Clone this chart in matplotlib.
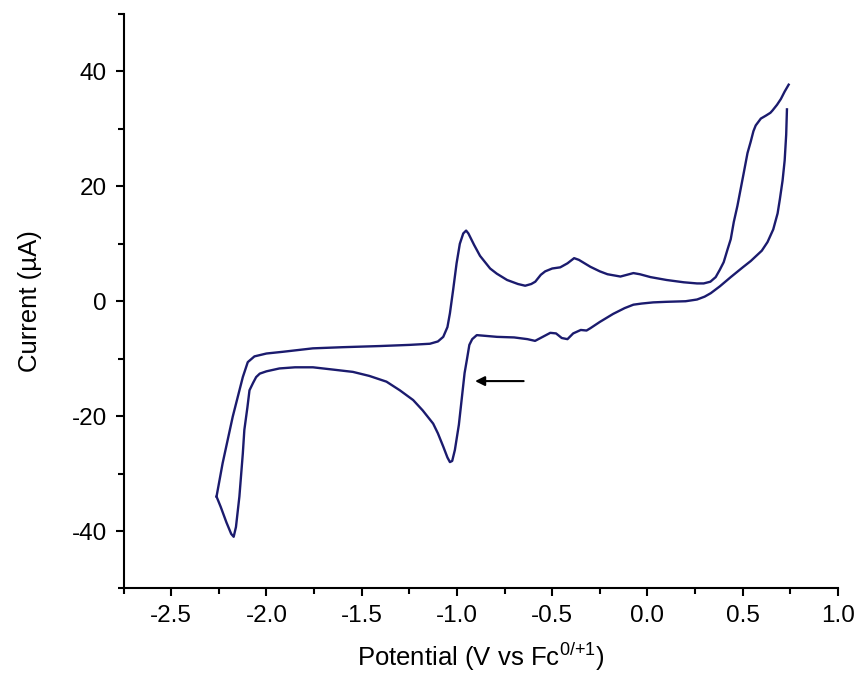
"""Voltamograma ciclico: corriente frente a potencial (V vs Fc0/+1)."""

import matplotlib
matplotlib.use("Agg")
import matplotlib.pyplot as plt
from matplotlib.ticker import MultipleLocator

plt.rcParams["font.family"] = ["Liberation Sans", "DejaVu Sans"]
plt.rcParams["mathtext.default"] = "regular"
plt.rcParams["axes.unicode_minus"] = False

# Barrido de ida (desde el vertice negativo hasta el extremo positivo)
upper_v = [-2.262, -2.23, -2.177, -2.124, -2.098, -2.063, -2.0, -1.914, -1.756, -1.6,
           -1.405, -1.25, -1.142, -1.1, -1.072, -1.05, -1.037, -1.02, -1.002, -0.985,
           -0.967, -0.952, -0.94, -0.91, -0.879, -0.826, -0.791, -0.737, -0.68, -0.642,
           -0.61, -0.589, -0.56, -0.537, -0.5, -0.458, -0.42, -0.385, -0.36, -0.3,
           -0.25, -0.21, -0.142, -0.074, -0.04, 0.016, 0.1, 0.19, 0.26, 0.295,
           0.33, 0.358, 0.38, 0.4, 0.42, 0.437, 0.453, 0.472, 0.505, 0.525,
           0.542, 0.556, 0.568, 0.595, 0.621, 0.645, 0.656, 0.68, 0.7, 0.72, 0.741]
upper_i = [-34.0, -28.2, -20.1, -13.2, -10.6, -9.6, -9.1, -8.8, -8.2, -8.0,
           -7.8, -7.6, -7.4, -7.0, -6.2, -4.5, -2.1, 2.0, 6.6, 10.0,
           11.8, 12.3, 11.8, 9.8, 7.9, 5.7, 4.8, 3.7, 3.0, 2.7,
           3.0, 3.4, 4.6, 5.2, 5.7, 5.9, 6.6, 7.5, 7.2, 6.0,
           5.2, 4.7, 4.3, 4.9, 4.7, 4.2, 3.7, 3.3, 3.1, 3.1,
           3.4, 4.2, 5.5, 6.8, 9.0, 10.8, 13.8, 16.6, 22.3, 25.8,
           27.8, 29.6, 30.6, 31.8, 32.3, 32.8, 33.2, 34.2, 35.2, 36.5, 37.7]

# Barrido de vuelta (desde el extremo positivo hasta el vertice negativo)
lower_v = [0.732, 0.728, 0.72, 0.709, 0.695, 0.683, 0.66, 0.63, 0.6, 0.542,
           0.5, 0.437, 0.38, 0.332, 0.3, 0.26, 0.2, 0.1, 0.03, -0.03,
           -0.074, -0.12, -0.18, -0.25, -0.3, -0.32, -0.35, -0.39, -0.42, -0.45,
           -0.48, -0.51, -0.55, -0.59, -0.63, -0.7, -0.79, -0.86, -0.896, -0.92,
           -0.935, -0.947, -0.96, -0.975, -0.99, -1.011, -1.025, -1.037, -1.05, -1.072,
           -1.1, -1.125, -1.18, -1.23, -1.3, -1.37, -1.46, -1.546, -1.65, -1.756,
           -1.85, -1.932, -2.0, -2.035, -2.054, -2.07, -2.089, -2.1, -2.116, -2.124,
           -2.142, -2.16, -2.172, -2.185, -2.21, -2.24, -2.262]
lower_i = [33.4, 29.0, 24.5, 21.0, 17.8, 15.3, 12.5, 10.3, 8.8, 7.0,
           5.9, 4.2, 2.6, 1.4, 0.8, 0.3, 0.0, -0.1, -0.2, -0.4,
           -0.6, -1.2, -2.2, -3.6, -4.7, -5.1, -5.0, -5.6, -6.6, -6.4,
           -5.6, -5.5, -6.2, -6.9, -6.6, -6.3, -6.2, -6.0, -5.9, -6.6,
           -7.6, -10.0, -12.5, -17.0, -21.5, -25.9, -27.8, -28.0, -27.2, -25.3,
           -23.0, -21.3, -19.0, -17.2, -15.5, -14.0, -13.0, -12.3, -11.9, -11.5,
           -11.5, -11.7, -12.2, -12.6, -13.2, -14.2, -15.5, -18.5, -22.4, -26.5,
           -34.0, -39.3, -41.0, -40.5, -38.5, -35.8, -34.0]

# Flecha que indica el sentido del barrido
arrow_tail = (-0.65, -13.9)
arrow_head = (-0.905, -13.9)

color = "#1b1b6e"

fig = plt.figure(figsize=(8.58, 6.83), dpi=100)
ax = fig.add_subplot(111)
fig.subplots_adjust(left=0.144, right=0.9767, top=0.9795, bottom=0.1384)

ax.plot(upper_v, upper_i, color=color, linewidth=1.7)
ax.plot(lower_v, lower_i, color=color, linewidth=1.7)

ax.annotate("", xy=arrow_head, xytext=arrow_tail,
            arrowprops=dict(arrowstyle="-|>", color="black", lw=1.5,
                            mutation_scale=14, shrinkA=0, shrinkB=0))

ax.set_xlim(-2.75, 1.0)
ax.set_ylim(-50, 50)
ax.xaxis.set_major_locator(MultipleLocator(0.5))
ax.xaxis.set_minor_locator(MultipleLocator(0.25))
ax.yaxis.set_major_locator(MultipleLocator(20))
ax.yaxis.set_minor_locator(MultipleLocator(10))

ax.spines["top"].set_visible(False)
ax.spines["right"].set_visible(False)
for side in ("left", "bottom"):
    ax.spines[side].set_linewidth(1.5)

ax.tick_params(which="major", direction="out", length=6, width=1.5,
               labelsize=17.5, pad=6)
ax.tick_params(which="minor", direction="out", length=4, width=1.5)

ax.set_xlabel("Potential (V vs Fc$^{0/{+}1}$)", fontsize=18.5, labelpad=10)
ax.set_ylabel("Current (\u00b5A)", fontsize=18.5)
ax.yaxis.set_label_coords(-0.114, 0.5)

fig.savefig("out.png", dpi=100)
